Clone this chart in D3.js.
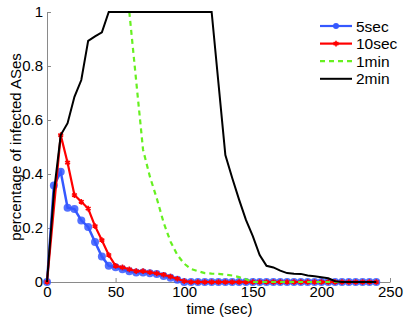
<!DOCTYPE html>
<html>
<head>
<meta charset="utf-8">
<script src="https://cdn.jsdelivr.net/npm/d3@7"></script>
<style>
  body { margin: 0; background: #fff; }
  svg { display: block; font-family: "Liberation Sans", Arial, sans-serif; }
</style>
</head>
<body>
<div id="chart"></div>
<script>
// sample times (sec)
const times = [0, 5, 10, 15, 20, 25, 30, 35, 40, 45, 50, 55, 60, 65, 70, 75, 80, 85, 90, 95,
  100, 105, 110, 115, 120, 125, 130, 135, 140, 145, 150, 155, 160, 165, 170, 175, 180, 185,
  190, 195, 200, 205, 210, 215, 220, 225, 230, 235, 240];

const sec5 = [0, 0.357, 0.408, 0.275, 0.27, 0.228, 0.204, 0.148, 0.094, 0.06, 0.055, 0.047,
  0.04, 0.035, 0.035, 0.032, 0.03, 0.022, 0.016, 0.008, 0, 0, 0, 0, 0, 0, 0, 0, 0, 0, 0, 0,
  0, 0, 0, 0, 0, 0, 0, 0, 0, 0, 0, 0, 0, 0, 0, 0, 0];

const sec10 = [0, null, 0.544, 0.442, 0.322, 0.297, 0.272, 0.207, 0.155, 0.1, 0.06, 0.054,
  0.047, 0.04, 0.04, 0.036, 0.032, 0.027, 0.02, 0.012, 0.003, 0, 0, 0, 0, 0, 0, 0, 0, 0, 0,
  0, 0, 0, 0, 0, 0, 0, 0, 0, 0, 0, 0, 0, 0, 0, 0, 0, 0];

const min1 = [null, null, null, null, null, null, null, null, null, null, null, null,
  1, 0.745, 0.49, 0.39, 0.31, 0.22, 0.15, 0.1, 0.068, 0.048, 0.04, 0.033, 0.031, 0.03,
  0.027, 0.024, 0.018, 0.01, 0, 0, 0, 0, 0, 0, 0, 0, 0, 0, 0, 0, 0, 0, 0, 0, 0, 0, 0];

const min2 = [0, 0.33, 0.544, 0.588, 0.686, 0.748, 0.893, 0.91, 0.925, 1, 1, 1, 1, 1, 1, 1,
  1, 1, 1, 1, 1, 1, 1, 1, 1, 0.735, 0.47, 0.385, 0.305, 0.23, 0.17, 0.1, 0.06, 0.054, 0.042,
  0.033, 0.031, 0.03, 0.024, 0.021, 0.018, 0.014, 0.003, 0, 0, 0, 0, 0, 0];

const seriesNames = ["5sec", "10sec", "1min", "2min"];
const xTicks = [0, 50, 100, 150, 200, 250];
const yTicks = [0, 0.2, 0.4, 0.6, 0.8, 1];

let width = 407, height = 319;
let margin = { top: 12, right: 17, bottom: 37, left: 47 };

let svg = d3.select('#chart').append('svg')
  .attr('width', width)
  .attr('height', height);

let x = d3.scaleLinear().domain([0, 250]).range([margin.left, width - margin.right]);
let y = d3.scaleLinear().domain([0, 1]).range([height - margin.bottom, margin.top]);

// axes (box off, ticks pointing in)
let xAxis = svg.append('g')
  .attr('transform', `translate(0,${y(0)})`)
  .call(d3.axisBottom(x).tickValues(xTicks).tickSizeInner(-4).tickSizeOuter(0).tickPadding(4));
let yAxis = svg.append('g')
  .attr('transform', `translate(${x(0)},0)`)
  .call(d3.axisLeft(y).tickValues(yTicks).tickFormat(d3.format('')).tickSizeInner(-4).tickSizeOuter(0).tickPadding(4));

[xAxis, yAxis].forEach(g => {
  g.select('.domain').attr('stroke', '#8a8a8a');
  g.selectAll('.tick line').attr('stroke', '#8a8a8a');
  g.selectAll('.tick text').attr('fill', '#000').attr('font-size', 15)
    .attr('font-family', '"Liberation Sans", Arial, sans-serif');
});

svg.append('text')
  .attr('x', (x(0) + x(250)) / 2 + 1)
  .attr('y', 314)
  .attr('text-anchor', 'middle')
  .attr('font-size', 15)
  .text('time (sec)');

svg.append('text')
  .attr('transform', `translate(21,${(y(0) + y(1)) / 2}) rotate(-90)`)
  .attr('text-anchor', 'middle')
  .attr('font-size', 15)
  .text('percentage of infected ASes');

let plot = svg.append('g');

function points(vals) {
  return times.map((t, i) => ({ t, v: vals[i] })).filter(d => d.v !== null);
}

let line = d3.line().x(d => x(d.t)).y(d => y(d.v));

// 5sec
let blue = '#3558ff';
plot.append('path').datum(points(sec5))
  .attr('d', line).attr('fill', 'none').attr('stroke', blue).attr('stroke-width', 2.5);
plot.selectAll('.m5').data(points(sec5)).enter().append('circle')
  .attr('class', 'm5')
  .attr('cx', d => x(d.t)).attr('cy', d => y(d.v)).attr('r', 4)
  .attr('fill', blue).attr('fill-opacity', 0.85);

// 10sec
let red = '#ff0000';
plot.append('path').datum(points(sec10))
  .attr('d', line).attr('fill', 'none').attr('stroke', red).attr('stroke-width', 2.2);
let star = d3.symbol().type(d3.symbolAsterisk).size(22);
plot.selectAll('.m10').data(points(sec10)).enter().append('path')
  .attr('class', 'm10')
  .attr('transform', d => `translate(${x(d.t)},${y(d.v)})`)
  .attr('d', star).attr('fill', 'none').attr('stroke', red).attr('stroke-width', 1.6);

// 1min
let green = '#66f020';
plot.append('path').datum(points(min1))
  .attr('d', line).attr('fill', 'none').attr('stroke', green)
  .attr('stroke-width', 2.2).attr('stroke-dasharray', '5,4');

// 2min
plot.append('path').datum(points(min2))
  .attr('d', line).attr('fill', 'none').attr('stroke', '#000').attr('stroke-width', 2);

// legend
let legColors = [blue, red, green, '#000'];
let leg = svg.append('g');
seriesNames.forEach((name, i) => {
  let ly = 26 + i * 17.6;
  let g = leg.append('g');
  let ln = g.append('line').attr('x1', 320).attr('x2', 352).attr('y1', ly).attr('y2', ly)
    .attr('stroke', legColors[i]).attr('stroke-width', i === 3 ? 2 : 2.2);
  if (i === 2) ln.attr('stroke-dasharray', '5,4');
  if (i === 0) g.append('circle').attr('cx', 336).attr('cy', ly).attr('r', 3).attr('fill', blue);
  if (i === 1) g.append('path').attr('transform', `translate(336,${ly})`).attr('d', star)
    .attr('fill', 'none').attr('stroke', red).attr('stroke-width', 1.6);
  g.append('text').attr('x', 356).attr('y', ly + 5.5).attr('font-size', 15.5).text(name);
});
</script>
</body>
</html>
